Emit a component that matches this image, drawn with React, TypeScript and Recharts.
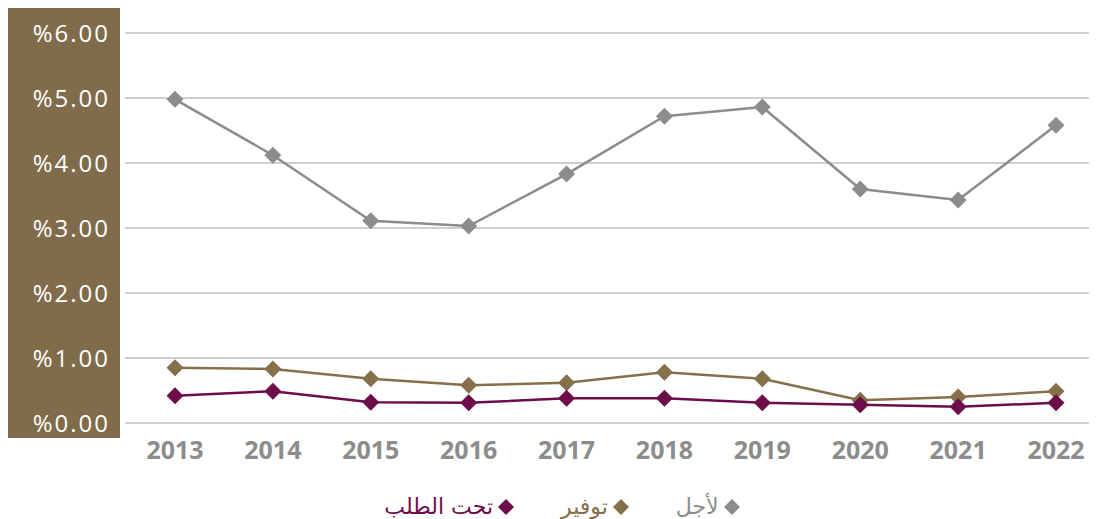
import { LineChart, Line, XAxis, YAxis, CartesianGrid, Legend } from 'recharts'

// السنوات والقيم (نسبة مئوية)
const years = ['2013', '2014', '2015', '2016', '2017', '2018', '2019', '2020', '2021', '2022']
const ajal = [4.98, 4.12, 3.11, 3.03, 3.83, 4.72, 4.86, 3.6, 3.43, 4.58]
const tawfir = [0.85, 0.83, 0.68, 0.58, 0.62, 0.78, 0.68, 0.35, 0.4, 0.49]
const tahtTalab = [0.42, 0.49, 0.32, 0.31, 0.38, 0.38, 0.31, 0.28, 0.25, 0.31]
const yTicks = [0, 1, 2, 3, 4, 5, 6]

const C_GREY = '#8c8c8c'
const C_BROWN = '#86704a'
const C_PURPLE = '#6d0d4a'
const C_BOX = '#806c4a'

const data = years.map((y, i) => ({ year: y, ajal: ajal[i], tawfir: tawfir[i], taht: tahtTalab[i] }))

const legendItems = [
  { name: 'لأجل', color: C_GREY },
  { name: 'توفير', color: C_BROWN },
  { name: 'تحت الطلب', color: C_PURPLE },
]

function Diamond({ cx, cy, fill }: { cx?: number; cy?: number; fill: string }) {
  if (cx == null || cy == null) return null
  const r = 8.5
  return <polygon points={`${cx},${cy - r} ${cx + r},${cy} ${cx},${cy + r} ${cx - r},${cy}`} fill={fill} />
}

function ChartLegend() {
  return (
    <div style={{ display: 'flex', direction: 'rtl', justifyContent: 'center', height: 24, lineHeight: '24px', paddingLeft: 12 }}>
      {legendItems.map(it => (
        <div key={it.name} style={{ display: 'flex', alignItems: 'center', margin: '0 23px', color: it.color, fontSize: 22, fontFamily: 'DejaVu Sans, sans-serif' }}>
          <svg width={18} height={18} style={{ marginLeft: 4 }}>
            <polygon points="9,1 17,9 9,17 1,9" fill={it.color} />
          </svg>
          <span>{it.name}</span>
        </div>
      ))}
    </div>
  )
}

export default function App() {
  return (
    <div style={{ position: 'relative', width: 1089, height: 511, overflow: 'hidden', fontFamily: '"Open Sans", sans-serif' }}>
      <div style={{ position: 'absolute', left: 0, top: 0, width: 112, height: 430, background: C_BOX }} />
      <LineChart width={1097} height={511} data={data} margin={{ top: 25, right: 0, bottom: 0, left: 0 }}>
        <CartesianGrid vertical={false} stroke="#bfbfbf" strokeWidth={1.5} />
        <XAxis dataKey="year" axisLine={false} tickLine={false} height={72} tickMargin={12}
          padding={{ left: 50, right: 49 }}
          tick={{ fontSize: 25, fontWeight: 700, fill: C_GREY }} />
        <YAxis domain={[0, 6]} ticks={yTicks} axisLine={false} tickLine={false} width={117} tickMargin={9}
          tickFormatter={(v: number) => `%${v.toFixed(2)}`}
          tick={{ fontSize: 24, fill: '#ffffff', letterSpacing: 2 }} />
        <Legend verticalAlign="bottom" height={24} content={<ChartLegend />} />
        <Line dataKey="ajal" stroke={C_GREY} strokeWidth={2.5} isAnimationActive={false}
          dot={(p: any) => <Diamond key={p.index} cx={p.cx} cy={p.cy} fill={C_GREY} />} />
        <Line dataKey="tawfir" stroke={C_BROWN} strokeWidth={2.5} isAnimationActive={false}
          dot={(p: any) => <Diamond key={p.index} cx={p.cx} cy={p.cy} fill={C_BROWN} />} />
        <Line dataKey="taht" stroke={C_PURPLE} strokeWidth={2.5} isAnimationActive={false}
          dot={(p: any) => <Diamond key={p.index} cx={p.cx} cy={p.cy} fill={C_PURPLE} />} />
      </LineChart>
    </div>
  )
}
